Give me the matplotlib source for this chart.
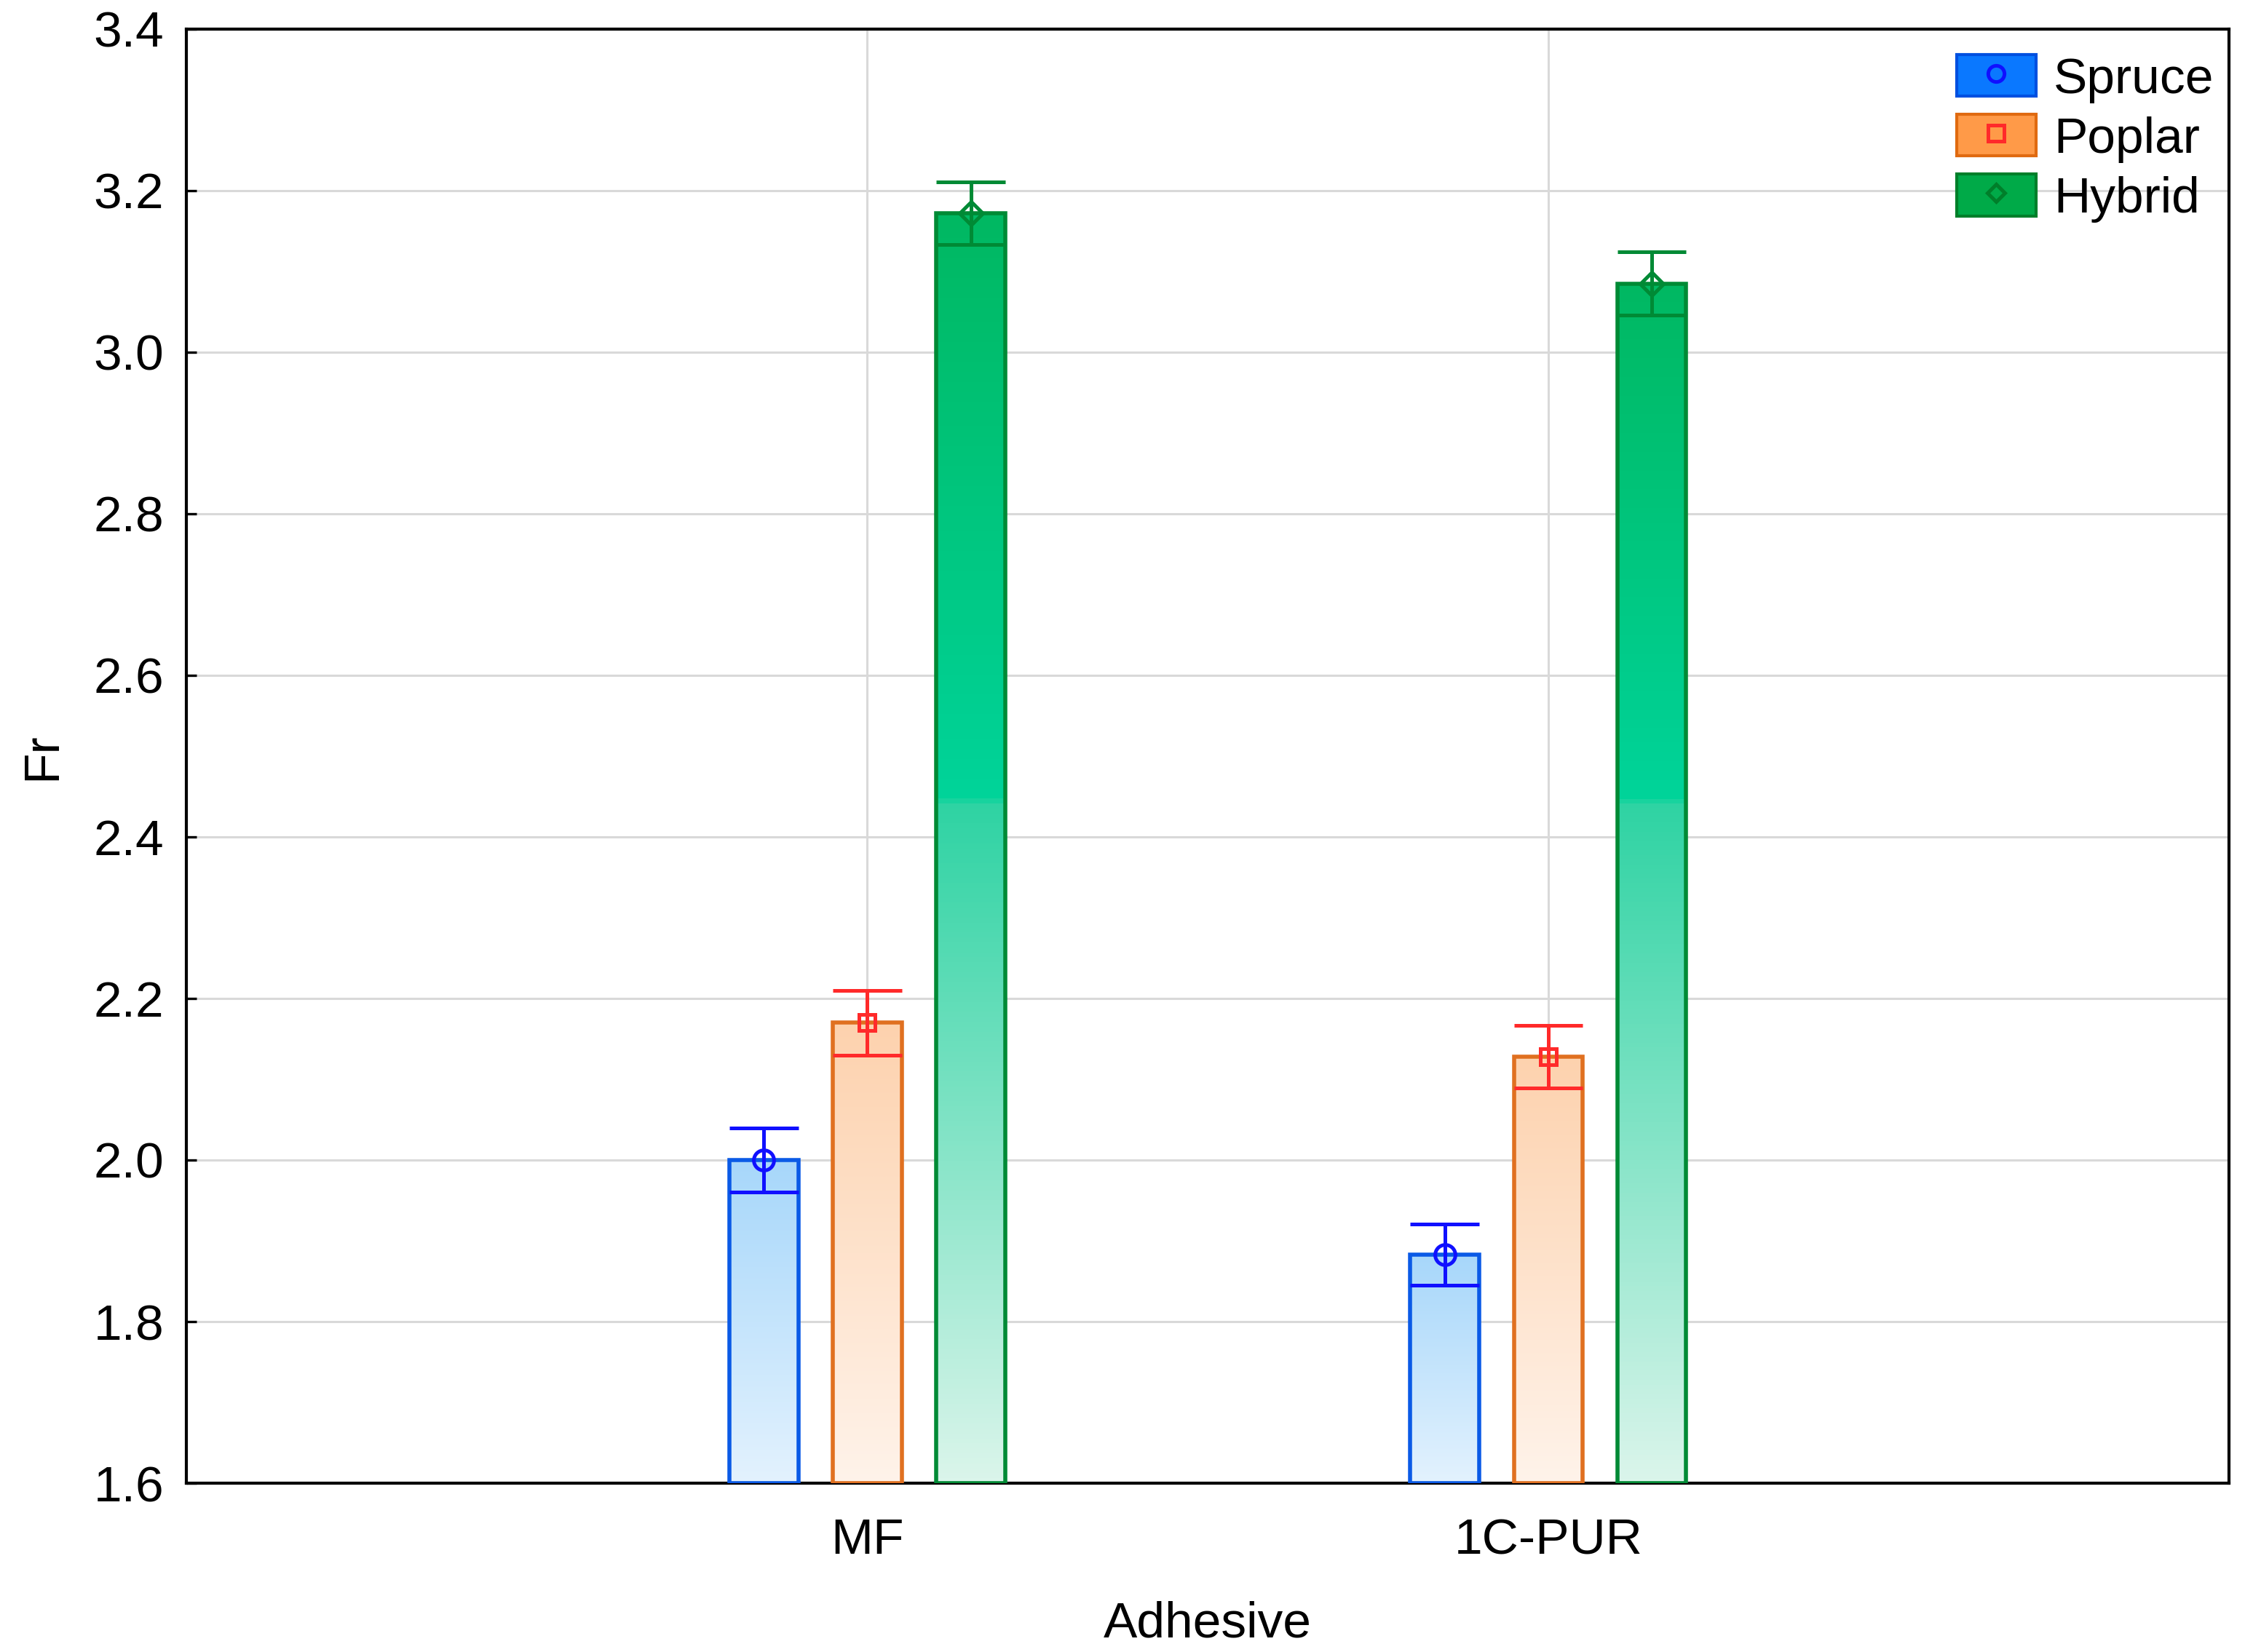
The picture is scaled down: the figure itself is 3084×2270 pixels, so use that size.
import numpy as np
import matplotlib.pyplot as plt
from matplotlib.colors import LinearSegmentedColormap
from matplotlib.patches import Patch
from matplotlib.lines import Line2D

plt.rcParams['font.family'] = ['Liberation Sans', 'DejaVu Sans']

adhesives = ['MF', '1C-PUR']
species = ['Spruce', 'Poplar', 'Hybrid']
spruce_mean = [2.000, 1.883]
poplar_mean = [2.170, 2.128]
hybrid_mean = [3.172, 3.085]
spruce_err = [0.040, 0.038]
poplar_err = [0.040, 0.039]
hybrid_err = [0.039, 0.039]

means = [spruce_mean, poplar_mean, hybrid_mean]
errs = [spruce_err, poplar_err, hybrid_err]

# colours per series
edge_c = ['#0a5ae6', '#e07020', '#008a35']
err_c = ['#1010ff', '#ff2a2a', '#008a35']
markers = ['o', 's', 'D']
legend_face = ['#0a78ff', '#ff9a48', '#00aa48']
legend_edge = ['#0050e0', '#e06a10', '#007f2a']
green_break = 2.443  # where the green fill changes abruptly


def bar_cmap(i, y0, h):
    if i == 0:
        return LinearSegmentedColormap.from_list('b', ['#e3f2fe', '#a7d7fa'])
    if i == 1:
        return LinearSegmentedColormap.from_list('o', ['#fff3ea', '#fdd2ae'])
    f = (green_break - y0) / h
    return LinearSegmentedColormap.from_list('g', [(0, '#dbf5eb'), (f, '#2ed3a3'),
                                                   (f + 0.002, '#00d49a'), (1, '#00b862')])


fig = plt.figure(figsize=(15.42, 11.35), dpi=200)
ax = fig.add_axes([0.083, 0.1022, 0.910, 0.8802])

x = np.arange(len(adhesives))
w = 0.101
off = 0.152
base = 1.6
grad = np.linspace(0, 1, 512).reshape(-1, 1)

for i in range(3):
    xs = x + (i - 1) * off
    heights = np.array(means[i]) - base
    bars = ax.bar(xs, heights, w, bottom=base, facecolor='none',
                  edgecolor=edge_c[i], linewidth=2.0, zorder=3)
    for p in bars:
        x0, y0, h = p.get_x(), p.get_y(), p.get_height()
        ax.imshow(grad, extent=[x0, x0 + p.get_width(), y0, y0 + h],
                  aspect='auto', cmap=bar_cmap(i, y0, h), origin='lower', zorder=2)
    m = np.array(means[i])
    e = np.array(errs[i])
    ax.errorbar(xs, m, yerr=e, fmt=markers[i], mfc='none', mec=err_c[i],
                ms=10 if i == 0 else 8, mew=1.8, ecolor=err_c[i], elinewidth=1.8,
                capsize=0, zorder=4)
    ax.hlines(np.concatenate([m + e, m - e]), np.tile(xs - w / 2, 2), np.tile(xs + w / 2, 2),
              colors=err_c[i], linewidth=1.8, zorder=4)

ax.set_xlim(-1, 2)
ax.set_ylim(1.6, 3.4)
ax.set_xticks(x)
ax.set_xticklabels(adhesives)
ax.set_yticks(np.arange(1.6, 3.41, 0.2))
ax.set_yticklabels(['%.1f' % v for v in np.arange(1.6, 3.41, 0.2)])
ax.tick_params(axis='both', direction='in', labelsize=25, length=5, width=1.2)
ax.tick_params(axis='x', pad=17)
ax.tick_params(axis='y', pad=11)
ax.grid(True, color='#d9d9d9', linewidth=1.1, zorder=0)
ax.set_axisbelow(True)
for s in ax.spines.values():
    s.set_linewidth(1.5)

ax.set_xlabel('Adhesive', fontsize=25, labelpad=18)
ax.set_ylabel('Fr', fontsize=25, labelpad=14)

handles = []
for i in range(3):
    handles.append((Patch(facecolor=legend_face[i], edgecolor=legend_edge[i], linewidth=1.5),
                    Line2D([], [], marker=markers[i], linestyle='none', mfc='none',
                           mec=err_c[i] if i < 2 else '#007f2a', ms=8 if i < 2 else 6, mew=1.8)))
ax.legend(handles, species, loc='upper right', bbox_to_anchor=(1.0, 0.993),
          frameon=False, fontsize=25,
          handlelength=1.57, handleheight=0.9, labelspacing=0.22, handletextpad=0.35,
          borderaxespad=0.1, borderpad=0.2)

fig.savefig('out.png', dpi=200)
